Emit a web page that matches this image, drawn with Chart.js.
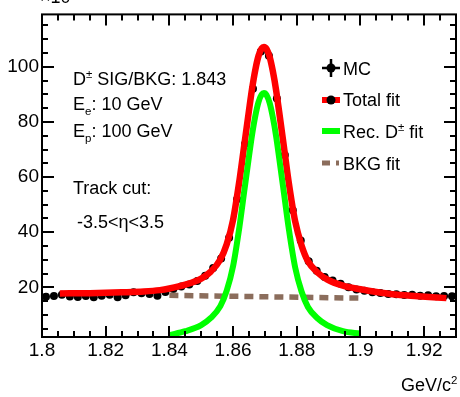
<!DOCTYPE html>
<html>
<head>
<meta charset="utf-8">
<script src="https://cdn.jsdelivr.net/npm/chart.js@4.4.0/dist/chart.umd.min.js"></script>
<style>
  html, body { margin: 0; padding: 0; background: #fff; }
</style>
</head>
<body>
<canvas id="c" width="460" height="397"></canvas>
<script>
// MC histogram (bin centres, counts / 10^3)
const mcMass = [1.80125, 1.80375, 1.80625, 1.80875, 1.81125, 1.81375, 1.81625, 1.81875, 1.82125, 1.82375,
                1.82625, 1.82875, 1.83125, 1.83375, 1.83625, 1.83875, 1.84125, 1.84375, 1.84625, 1.84875,
                1.85125, 1.85375, 1.85625, 1.85875, 1.86125, 1.86375, 1.86625, 1.86875, 1.87125, 1.87375,
                1.87625, 1.87875, 1.88125, 1.88375, 1.88625, 1.88875, 1.89125, 1.89375, 1.89625, 1.89875,
                1.90125, 1.90375, 1.90625, 1.90875, 1.91125, 1.91375, 1.91625, 1.91875, 1.92125, 1.92375,
                1.92625, 1.92875]
const mcCounts = [16.6, 16.9, 17.3, 16.7, 16.5, 16.9, 16.4, 17.0, 17.3, 16.4,
                  17.1, 18.2, 17.9, 17.6, 17.0, 18.3, 19.4, 20.3, 21.0, 22.3,
                  24.2, 27.0, 30.5, 38.0, 52.0, 72.0, 92.0, 105.5, 104.0, 88.5,
                  68.0, 48.0, 37.0, 29.5, 26.0, 23.8, 22.5, 21.3, 20.0, 19.2,
                  18.8, 18.2, 18.0, 17.6, 17.5, 17.2, 17.3, 17.0, 17.1, 16.8,
                  16.9, 16.8]

// total fit
const totalMass = [1.8056, 1.815, 1.825, 1.832, 1.837, 1.840, 1.845, 1.850, 1.853, 1.856,
                   1.858, 1.860, 1.862, 1.8635, 1.865, 1.866, 1.867, 1.868, 1.869, 1.8697,
                   1.8705, 1.8715, 1.8725, 1.8735, 1.8745, 1.876, 1.8775, 1.8795, 1.8815, 1.8835,
                   1.8865, 1.8895, 1.8945, 1.900, 1.905, 1.910, 1.918, 1.927]
const totalFit = [17.8, 17.9, 18.2, 18.5, 19.0, 19.6, 21.0, 23.2, 25.7, 30.1,
                  35.6, 44.5, 58.8, 71.5, 84.2, 92.3, 99.0, 104.0, 106.7, 107.2,
                  106.5, 103.5, 98.3, 91.6, 83.4, 70.7, 57.9, 43.9, 35.2, 29.5,
                  25.4, 22.9, 20.6, 19.3, 18.3, 17.5, 16.8, 16.1]

// signal component
const sigMass = [1.840, 1.845, 1.850, 1.853, 1.856, 1.858, 1.860, 1.862, 1.8635, 1.865,
                 1.866, 1.867, 1.868, 1.869, 1.8697, 1.8705, 1.8715, 1.8725, 1.8735, 1.8745,
                 1.876, 1.8775, 1.8795, 1.8815, 1.8835, 1.8865, 1.8895, 1.8945, 1.900]
const sigFit = [2.7, 4.1, 6.3, 8.9, 13.2, 18.8, 27.7, 42.0, 54.8, 67.5,
                75.6, 82.3, 87.3, 90.0, 90.5, 89.8, 86.8, 81.6, 74.9, 66.7,
                54.0, 41.2, 27.2, 18.5, 12.9, 8.8, 6.3, 4.1, 3.2]

// background component
const bkgMass = [1.840, 1.900]
const bkgFit = [17.1, 16.1]

const xTicks = [1.8, 1.82, 1.84, 1.86, 1.88, 1.9, 1.92]
const yTicks = [20, 40, 60, 80, 100]

const FONT = "'Liberation Sans', Arial, Helvetica, sans-serif"
const pts = (xs, ys) => xs.map((x, i) => ({ x, y: ys[i] }))

// ROOT-like frame: box on all four sides with inward major/minor ticks
const frame = {
  id: 'frame',
  afterDraw(chart) {
    const { ctx, chartArea: a, scales: { x, y } } = chart
    ctx.save()
    ctx.strokeStyle = '#000'
    ctx.lineWidth = 2
    ctx.strokeRect(a.left, a.top, a.right - a.left, a.bottom - a.top)
    ctx.beginPath()
    for (let v = 1.8; v < 1.9301; v += 0.005) {
      const px = Math.round(x.getPixelForValue(v))
      const major = Math.abs(v / 0.02 - Math.round(v / 0.02)) < 1e-6
      const len = major ? 11 : 6
      ctx.moveTo(px, a.bottom); ctx.lineTo(px, a.bottom - len)
      ctx.moveTo(px, a.top); ctx.lineTo(px, a.top + len)
    }
    for (let v = 5; v < 120; v += 5) {
      const py = Math.round(y.getPixelForValue(v))
      const len = v % 20 === 0 ? 12 : 6
      ctx.moveTo(a.left, py); ctx.lineTo(a.left + len, py)
      ctx.moveTo(a.right, py); ctx.lineTo(a.right - len, py)
    }
    ctx.stroke()
    ctx.restore()
  }
}

// text block, legend and axis title
const labels = {
  id: 'labels',
  afterDraw(chart) {
    const { ctx } = chart
    ctx.save()
    ctx.fillStyle = '#000'
    ctx.textBaseline = 'alphabetic'
    const big = `18px ${FONT}`, small = `11.5px ${FONT}`

    const run = (parts, x, y) => {
      for (const [t, kind] of parts) {
        ctx.font = kind ? small : big
        const dy = kind === 'sup' ? -7 : kind === 'sub' ? 5 : 0
        ctx.fillText(t, x, y + dy)
        x += ctx.measureText(t).width
      }
      return x
    }

    run([['D'], ['±', 'sup'], [' SIG/BKG: 1.843']], 73, 85)
    run([['E'], ['e', 'sub'], [': 10 GeV']], 73, 110)
    run([['E'], ['p', 'sub'], [': 100 GeV']], 73, 137)
    run([['Track cut:']], 73, 194)
    run([['-3.5<η<3.5']], 77, 228)

    // legend
    const lx = 343
    run([['MC']], lx, 75)
    run([['Total fit']], lx, 106)
    run([['Rec. D'], ['±', 'sup'], [' fit']], lx, 138)
    run([['BKG fit']], lx, 170)

    ctx.lineCap = 'butt'
    ctx.strokeStyle = '#000'
    ctx.lineWidth = 2.5
    ctx.beginPath()
    ctx.moveTo(322, 68); ctx.lineTo(340, 68)
    ctx.moveTo(331, 59); ctx.lineTo(331, 77)
    ctx.stroke()
    ctx.beginPath(); ctx.arc(331, 68, 4.5, 0, Math.PI * 2); ctx.fill()

    ctx.strokeStyle = '#ff0000'
    ctx.lineWidth = 6
    ctx.beginPath(); ctx.moveTo(322, 100); ctx.lineTo(340, 100); ctx.stroke()
    ctx.beginPath(); ctx.arc(331, 100, 4.5, 0, Math.PI * 2); ctx.fill()

    ctx.strokeStyle = '#00ff00'
    ctx.beginPath(); ctx.moveTo(322, 131); ctx.lineTo(340, 131); ctx.stroke()

    ctx.strokeStyle = '#8b6d5c'
    ctx.lineWidth = 5
    ctx.beginPath()
    ctx.moveTo(322, 163); ctx.lineTo(330, 163)
    ctx.moveTo(336, 163); ctx.lineTo(339, 163)
    ctx.stroke()

    // axis title and exponent
    ctx.textAlign = 'right'
    run([['GeV/c']], 451, 391)
    ctx.textAlign = 'left'
    run([['2', 'sup']], 451, 391)
    ctx.font = `18px ${FONT}`
    ctx.fillText('×10', 40, 3)
    ctx.restore()
  }
}

new Chart(document.getElementById('c'), {
  type: 'scatter',
  data: {
    datasets: [
      { type: 'line', label: 'Rec. D± fit', data: pts(sigMass, sigFit), borderColor: '#00ff00',
        borderWidth: 6, pointRadius: 0, cubicInterpolationMode: 'monotone', fill: false },
      { type: 'line', label: 'Total fit', data: pts(totalMass, totalFit), borderColor: '#ff0000',
        borderWidth: 6.5, pointRadius: 0, cubicInterpolationMode: 'monotone', fill: false },
      { type: 'line', label: 'BKG fit', data: pts(bkgMass, bkgFit), borderColor: '#8b6d5c',
        borderWidth: 5.5, borderDash: [9, 6], pointRadius: 0, fill: false },
      { label: 'MC', data: pts(mcMass, mcCounts), backgroundColor: '#000', borderColor: '#000',
        pointRadius: 4, pointBorderWidth: 0 }
    ]
  },
  options: {
    responsive: false,
    animation: false,
    devicePixelRatio: 1,
    layout: { padding: { top: 14, right: 1, left: 0, bottom: 0 } },
    plugins: { legend: { display: false }, tooltip: { enabled: false } },
    scales: {
      x: {
        type: 'linear', min: 1.8, max: 1.93,
        afterFit: s => { s.height = 60 },
        afterBuildTicks: s => { s.ticks = xTicks.map(value => ({ value })) },
        grid: { display: false, drawTicks: false },
        border: { display: false },
        ticks: { color: '#000', font: { family: FONT, size: 19 }, padding: 2, maxRotation: 0,
                 callback: v => String(Number(v.toFixed(2))) }
      },
      y: {
        type: 'linear', min: 2, max: 119,
        afterFit: s => { s.width = 42 },
        afterBuildTicks: s => { s.ticks = yTicks.map(value => ({ value })) },
        grid: { display: false, drawTicks: false },
        border: { display: false },
        ticks: { color: '#000', font: { family: FONT, size: 19 }, padding: 3 }
      }
    }
  },
  plugins: [frame, labels]
})
</script>
</body>
</html>
